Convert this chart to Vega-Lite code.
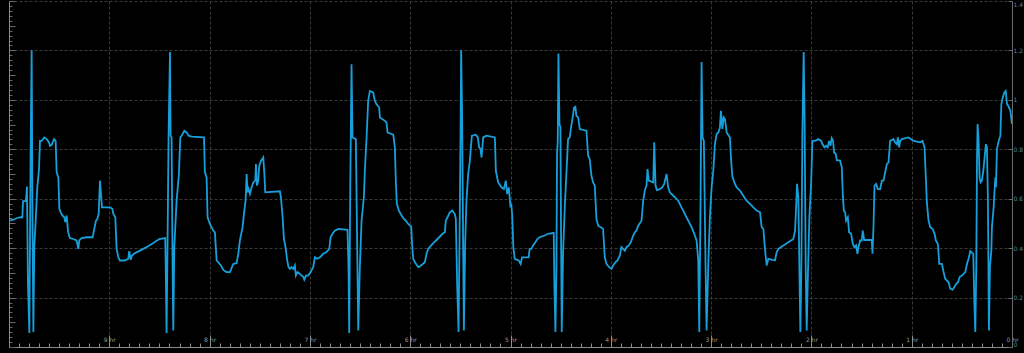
{
  "$schema": "https://vega.github.io/schema/vega-lite/v6.json",
  "width": 1003,
  "height": 346,
  "autosize": {"type": "none"},
  "padding": {"left": 9, "top": 1, "right": 12, "bottom": 6},
  "background": "#000000",
  "config": {"view": {"stroke": null}, "font": "DejaVu Sans"},
  "data": {"values": [
    {"t":0,"v":0.511},{"t":0.043,"v":0.515},{"t":0.076,"v":0.521},{"t":0.116,"v":0.525},{"t":0.133,"v":0.525},{"t":0.14,"v":0.59},{"t":0.169,"v":0.59},{"t":0.179,"v":0.649},{"t":0.189,"v":0.256},{"t":0.203,"v":0.057},{"t":0.216,"v":0.808},{"t":0.226,"v":1.201},{"t":0.233,"v":0.592},{"t":0.243,"v":0.061},{"t":0.252,"v":0.404},{"t":0.266,"v":0.511},{"t":0.282,"v":0.646},{"t":0.299,"v":0.72},{"t":0.309,"v":0.834},{"t":0.326,"v":0.834},{"t":0.352,"v":0.848},{"t":0.375,"v":0.841},{"t":0.399,"v":0.828},{"t":0.409,"v":0.814},{"t":0.425,"v":0.818},{"t":0.449,"v":0.841},{"t":0.465,"v":0.834},{"t":0.475,"v":0.707},{"t":0.492,"v":0.686},{"t":0.502,"v":0.559},{"t":0.515,"v":0.545},{"t":0.532,"v":0.532},{"t":0.551,"v":0.525},{"t":0.561,"v":0.505},{"t":0.575,"v":0.532},{"t":0.588,"v":0.471},{"t":0.598,"v":0.451},{"t":0.608,"v":0.441},{"t":0.641,"v":0.437},{"t":0.674,"v":0.431},{"t":0.691,"v":0.397},{"t":0.701,"v":0.431},{"t":0.724,"v":0.441},{"t":0.774,"v":0.444},{"t":0.834,"v":0.444},{"t":0.847,"v":0.471},{"t":0.867,"v":0.511},{"t":0.88,"v":0.518},{"t":0.894,"v":0.538},{"t":0.907,"v":0.673},{"t":0.917,"v":0.619},{"t":0.927,"v":0.565},{"t":0.957,"v":0.565},{"t":1.007,"v":0.565},{"t":1.03,"v":0.559},{"t":1.04,"v":0.538},{"t":1.06,"v":0.525},{"t":1.073,"v":0.397},{"t":1.09,"v":0.363},{"t":1.106,"v":0.35},{"t":1.156,"v":0.35},{"t":1.189,"v":0.357},{"t":1.199,"v":0.388},{"t":1.213,"v":0.353},{"t":1.226,"v":0.37},{"t":1.256,"v":0.38},{"t":1.306,"v":0.39},{"t":1.372,"v":0.404},{"t":1.439,"v":0.421},{"t":1.498,"v":0.437},{"t":1.558,"v":0.441},{"t":1.565,"v":0.256},{"t":1.571,"v":0.057},{"t":1.581,"v":0.431},{"t":1.591,"v":0.855},{"t":1.605,"v":1.194},{"t":1.611,"v":0.855},{"t":1.621,"v":0.848},{"t":1.631,"v":0.323},{"t":1.638,"v":0.067},{"t":1.648,"v":0.404},{"t":1.671,"v":0.592},{"t":1.694,"v":0.7},{"t":1.708,"v":0.848},{"t":1.721,"v":0.855},{"t":1.748,"v":0.875},{"t":1.771,"v":0.868},{"t":1.791,"v":0.855},{"t":1.821,"v":0.851},{"t":1.944,"v":0.848},{"t":1.953,"v":0.707},{"t":1.97,"v":0.686},{"t":1.98,"v":0.525},{"t":2.003,"v":0.498},{"t":2.037,"v":0.471},{"t":2.053,"v":0.464},{"t":2.07,"v":0.35},{"t":2.086,"v":0.343},{"t":2.113,"v":0.33},{"t":2.136,"v":0.312},{"t":2.169,"v":0.303},{"t":2.203,"v":0.303},{"t":2.236,"v":0.336},{"t":2.269,"v":0.339},{"t":2.286,"v":0.377},{"t":2.302,"v":0.431},{"t":2.329,"v":0.485},{"t":2.342,"v":0.538},{"t":2.359,"v":0.592},{"t":2.369,"v":0.7},{"t":2.379,"v":0.626},{"t":2.389,"v":0.639},{"t":2.402,"v":0.619},{"t":2.419,"v":0.646},{"t":2.435,"v":0.666},{"t":2.455,"v":0.673},{"t":2.462,"v":0.74},{"t":2.472,"v":0.653},{"t":2.485,"v":0.673},{"t":2.495,"v":0.733},{"t":2.512,"v":0.754},{"t":2.525,"v":0.76},{"t":2.535,"v":0.767},{"t":2.545,"v":0.707},{"t":2.555,"v":0.626},{"t":2.701,"v":0.63},{"t":2.711,"v":0.606},{"t":2.728,"v":0.525},{"t":2.741,"v":0.437},{"t":2.757,"v":0.404},{"t":2.774,"v":0.35},{"t":2.787,"v":0.323},{"t":2.801,"v":0.316},{"t":2.817,"v":0.323},{"t":2.834,"v":0.316},{"t":2.85,"v":0.33},{"t":2.86,"v":0.289},{"t":2.877,"v":0.303},{"t":2.9,"v":0.296},{"t":2.934,"v":0.283},{"t":2.944,"v":0.272},{"t":2.96,"v":0.289},{"t":2.983,"v":0.289},{"t":3.007,"v":0.303},{"t":3.033,"v":0.323},{"t":3.05,"v":0.363},{"t":3.073,"v":0.357},{"t":3.1,"v":0.363},{"t":3.133,"v":0.377},{"t":3.166,"v":0.384},{"t":3.193,"v":0.397},{"t":3.206,"v":0.444},{"t":3.226,"v":0.458},{"t":3.249,"v":0.471},{"t":3.282,"v":0.478},{"t":3.375,"v":0.474},{"t":3.385,"v":0.323},{"t":3.392,"v":0.057},{"t":3.402,"v":0.633},{"t":3.415,"v":1.144},{"t":3.425,"v":0.848},{"t":3.458,"v":0.841},{"t":3.472,"v":0.39},{"t":3.482,"v":0.067},{"t":3.498,"v":0.323},{"t":3.515,"v":0.511},{"t":3.538,"v":0.606},{"t":3.548,"v":0.713},{"t":3.565,"v":0.848},{"t":3.581,"v":0.996},{"t":3.598,"v":1.036},{"t":3.631,"v":1.03},{"t":3.648,"v":0.996},{"t":3.664,"v":0.982},{"t":3.691,"v":0.969},{"t":3.698,"v":0.929},{"t":3.748,"v":0.915},{"t":3.764,"v":0.908},{"t":3.774,"v":0.868},{"t":3.831,"v":0.859},{"t":3.847,"v":0.808},{"t":3.857,"v":0.666},{"t":3.867,"v":0.579},{"t":3.887,"v":0.552},{"t":3.914,"v":0.532},{"t":3.937,"v":0.518},{"t":3.957,"v":0.511},{"t":3.98,"v":0.498},{"t":4.01,"v":0.487},{"t":4.02,"v":0.411},{"t":4.03,"v":0.357},{"t":4.047,"v":0.343},{"t":4.08,"v":0.323},{"t":4.096,"v":0.326},{"t":4.146,"v":0.343},{"t":4.163,"v":0.377},{"t":4.179,"v":0.397},{"t":4.223,"v":0.417},{"t":4.272,"v":0.437},{"t":4.322,"v":0.458},{"t":4.346,"v":0.464},{"t":4.355,"v":0.511},{"t":4.372,"v":0.525},{"t":4.395,"v":0.545},{"t":4.419,"v":0.552},{"t":4.445,"v":0.538},{"t":4.455,"v":0.518},{"t":4.468,"v":0.256},{"t":4.482,"v":0.061},{"t":4.492,"v":0.431},{"t":4.502,"v":0.861},{"t":4.508,"v":1.201},{"t":4.518,"v":0.929},{"t":4.528,"v":0.404},{"t":4.535,"v":0.067},{"t":4.548,"v":0.417},{"t":4.561,"v":0.592},{"t":4.578,"v":0.7},{"t":4.595,"v":0.754},{"t":4.605,"v":0.808},{"t":4.615,"v":0.855},{"t":4.654,"v":0.859},{"t":4.674,"v":0.848},{"t":4.688,"v":0.808},{"t":4.701,"v":0.801},{"t":4.711,"v":0.767},{"t":4.728,"v":0.848},{"t":4.761,"v":0.855},{"t":4.844,"v":0.848},{"t":4.854,"v":0.713},{"t":4.877,"v":0.666},{"t":4.91,"v":0.646},{"t":4.934,"v":0.639},{"t":4.953,"v":0.673},{"t":4.967,"v":0.619},{"t":4.983,"v":0.646},{"t":5.0,"v":0.565},
    {"t":5.008,"v":0.579},{"t":5.018,"v":0.525},{"t":5.028,"v":0.404},{"t":5.042,"v":0.357},{"t":5.082,"v":0.35},{"t":5.101,"v":0.336},{"t":5.115,"v":0.363},{"t":5.181,"v":0.363},{"t":5.191,"v":0.397},{"t":5.208,"v":0.397},{"t":5.225,"v":0.411},{"t":5.248,"v":0.424},{"t":5.268,"v":0.437},{"t":5.291,"v":0.444},{"t":5.341,"v":0.451},{"t":5.374,"v":0.458},{"t":5.431,"v":0.462},{"t":5.438,"v":0.242},{"t":5.448,"v":0.061},{"t":5.458,"v":0.323},{"t":5.464,"v":0.781},{"t":5.471,"v":0.834},{"t":5.478,"v":1.188},{"t":5.488,"v":0.902},{"t":5.498,"v":0.888},{"t":5.504,"v":0.458},{"t":5.511,"v":0.061},{"t":5.524,"v":0.377},{"t":5.541,"v":0.565},{"t":5.557,"v":0.7},{"t":5.574,"v":0.841},{"t":5.591,"v":0.848},{"t":5.601,"v":0.882},{"t":5.617,"v":0.922},{"t":5.634,"v":0.969},{"t":5.647,"v":0.972},{"t":5.657,"v":0.935},{"t":5.674,"v":0.929},{"t":5.691,"v":0.882},{"t":5.757,"v":0.875},{"t":5.774,"v":0.774},{"t":5.79,"v":0.76},{"t":5.807,"v":0.693},{"t":5.824,"v":0.666},{"t":5.84,"v":0.653},{"t":5.857,"v":0.518},{"t":5.874,"v":0.491},{"t":5.923,"v":0.478},{"t":5.94,"v":0.363},{"t":5.957,"v":0.336},{"t":5.983,"v":0.323},{"t":6.007,"v":0.316},{"t":6.023,"v":0.33},{"t":6.047,"v":0.343},{"t":6.067,"v":0.35},{"t":6.09,"v":0.37},{"t":6.106,"v":0.404},{"t":6.14,"v":0.39},{"t":6.156,"v":0.404},{"t":6.18,"v":0.411},{"t":6.2,"v":0.424},{"t":6.223,"v":0.451},{"t":6.24,"v":0.464},{"t":6.256,"v":0.471},{"t":6.273,"v":0.491},{"t":6.306,"v":0.511},{"t":6.323,"v":0.592},{"t":6.339,"v":0.633},{"t":6.356,"v":0.653},{"t":6.366,"v":0.72},{"t":6.379,"v":0.673},{"t":6.423,"v":0.666},{"t":6.433,"v":0.828},{"t":6.446,"v":0.653},{"t":6.459,"v":0.635},{"t":6.489,"v":0.639},{"t":6.512,"v":0.646},{"t":6.532,"v":0.659},{"t":6.556,"v":0.7},{"t":6.572,"v":0.646},{"t":6.589,"v":0.626},{"t":6.606,"v":0.619},{"t":6.639,"v":0.606},{"t":6.672,"v":0.592},{"t":6.705,"v":0.565},{"t":6.739,"v":0.538},{"t":6.772,"v":0.511},{"t":6.805,"v":0.485},{"t":6.832,"v":0.458},{"t":6.855,"v":0.431},{"t":6.872,"v":0.35},{"t":6.882,"v":0.061},{"t":6.895,"v":0.592},{"t":6.905,"v":1.153},{"t":6.915,"v":0.848},{"t":6.928,"v":0.834},{"t":6.945,"v":0.323},{"t":6.955,"v":0.067},{"t":6.972,"v":0.336},{"t":6.988,"v":0.525},{"t":7.005,"v":0.646},{"t":7.022,"v":0.713},{"t":7.038,"v":0.821},{"t":7.055,"v":0.861},{"t":7.072,"v":0.868},{"t":7.088,"v":0.888},{"t":7.098,"v":0.956},{"t":7.112,"v":0.882},{"t":7.125,"v":0.929},{"t":7.138,"v":0.922},{"t":7.155,"v":0.868},{"t":7.188,"v":0.848},{"t":7.198,"v":0.767},{"t":7.211,"v":0.693},{"t":7.231,"v":0.666},{"t":7.255,"v":0.646},{"t":7.288,"v":0.633},{"t":7.321,"v":0.612},{"t":7.354,"v":0.592},{"t":7.388,"v":0.579},{"t":7.421,"v":0.565},{"t":7.454,"v":0.552},{"t":7.488,"v":0.545},{"t":7.504,"v":0.485},{"t":7.521,"v":0.478},{"t":7.537,"v":0.397},{"t":7.554,"v":0.33},{"t":7.571,"v":0.357},{"t":7.637,"v":0.35},{"t":7.654,"v":0.384},{"t":7.671,"v":0.397},{"t":7.72,"v":0.411},{"t":7.77,"v":0.424},{"t":7.82,"v":0.437},{"t":7.837,"v":0.471},{"t":7.847,"v":0.559},{"t":7.857,"v":0.66},{"t":7.87,"v":0.606},{"t":7.88,"v":0.323},{"t":7.89,"v":0.061},{"t":7.9,"v":0.323},{"t":7.91,"v":0.861},{"t":7.923,"v":1.194},{"t":7.933,"v":0.888},{"t":7.943,"v":0.323},{"t":7.953,"v":0.067},{"t":7.967,"v":0.323},{"t":7.98,"v":0.525},{"t":7.997,"v":0.66},{"t":8.01,"v":0.834},{"t":8.037,"v":0.834},{"t":8.07,"v":0.841},{"t":8.097,"v":0.834},{"t":8.11,"v":0.821},{"t":8.13,"v":0.808},{"t":8.146,"v":0.814},{"t":8.163,"v":0.808},{"t":8.176,"v":0.834},{"t":8.19,"v":0.814},{"t":8.203,"v":0.845},{"t":8.216,"v":0.834},{"t":8.226,"v":0.787},{"t":8.243,"v":0.781},{"t":8.253,"v":0.756},{"t":8.286,"v":0.754},{"t":8.303,"v":0.727},{"t":8.313,"v":0.619},{"t":8.323,"v":0.552},{"t":8.336,"v":0.545},{"t":8.346,"v":0.511},{"t":8.363,"v":0.525},{"t":8.376,"v":0.464},{"t":8.396,"v":0.458},{"t":8.413,"v":0.417},{"t":8.429,"v":0.404},{"t":8.446,"v":0.411},{"t":8.459,"v":0.377},{"t":8.469,"v":0.404},{"t":8.486,"v":0.431},{"t":8.502,"v":0.431},{"t":8.512,"v":0.471},{"t":8.526,"v":0.433},{"t":8.602,"v":0.433},{"t":8.609,"v":0.377},{"t":8.619,"v":0.485},{"t":8.629,"v":0.653},{"t":8.646,"v":0.66},{"t":8.662,"v":0.639},{"t":8.686,"v":0.639},{"t":8.702,"v":0.673},{"t":8.719,"v":0.673},{"t":8.735,"v":0.707},{"t":8.752,"v":0.74},{"t":8.769,"v":0.747},{"t":8.785,"v":0.834},{"t":8.819,"v":0.841},{"t":8.835,"v":0.828},{"t":8.852,"v":0.821},{"t":8.862,"v":0.848},{"t":8.875,"v":0.808},{"t":8.885,"v":0.834},{"t":8.902,"v":0.841},{"t":8.968,"v":0.848},{"t":9.018,"v":0.834},{"t":9.085,"v":0.828},{"t":9.108,"v":0.834},{"t":9.128,"v":0.808},{"t":9.141,"v":0.686},{"t":9.151,"v":0.585},{"t":9.168,"v":0.511},{"t":9.185,"v":0.485},{"t":9.208,"v":0.478},{"t":9.228,"v":0.458},{"t":9.241,"v":0.431},{"t":9.261,"v":0.417},{"t":9.275,"v":0.336},{"t":9.301,"v":0.336},{"t":9.318,"v":0.303},{"t":9.334,"v":0.276},{"t":9.368,"v":0.262},{"t":9.384,"v":0.236},{"t":9.408,"v":0.232},{"t":9.424,"v":0.242},{"t":9.444,"v":0.256},{"t":9.461,"v":0.262},{"t":9.478,"v":0.283},{"t":9.501,"v":0.289},{"t":9.534,"v":0.303},{"t":9.551,"v":0.336},{"t":9.567,"v":0.357},{"t":9.584,"v":0.388},{"t":9.614,"v":0.377},{"t":9.624,"v":0.188},{"t":9.634,"v":0.061},{"t":9.644,"v":0.323},{"t":9.651,"v":0.754},{"t":9.657,"v":0.902},{"t":9.667,"v":0.834},{"t":9.677,"v":0.686},{"t":9.687,"v":0.666},{"t":9.7,"v":0.673},{"t":9.714,"v":0.713},{"t":9.727,"v":0.767},{"t":9.74,"v":0.821},{"t":9.75,"v":0.808},{"t":9.76,"v":0.592},{"t":9.77,"v":0.067},{"t":9.78,"v":0.323},{"t":9.794,"v":0.39},{"t":9.8,"v":0.485},{"t":9.817,"v":0.565},{"t":9.827,"v":0.639},{"t":9.834,"v":0.686},{"t":9.84,"v":0.646},{"t":9.85,"v":0.801},{"t":9.867,"v":0.834},{"t":9.884,"v":0.855},{"t":9.894,"v":0.983},{"t":9.907,"v":1.009},{"t":9.924,"v":1.03},{"t":9.937,"v":1.036},{"t":9.95,"v":0.983},{"t":9.967,"v":0.972},{"t":9.984,"v":0.956},{"t":10,"v":0.902}
  ]},
  "encoding": {
    "x": {"field": "t", "type": "quantitative", "scale": {"domain": [0, 10], "nice": false, "zero": false},
      "axis": {"orient": "bottom", "title": null, "tickCount": 100, "domainColor": "#8a8a8a", "domainWidth": 1,
        "tickColor": "#8a8a8a", "tickWidth": 1,
        "tickSize": {"condition": {"test": "abs(datum.value - round(datum.value)) < 0.01", "value": -12}, "value": -4},
        "grid": true, "gridColor": "#3a3a3a", "gridDash": [3, 2], "gridWidth": 1,
        "gridOpacity": {"condition": {"test": "abs(datum.value - round(datum.value)) < 0.01", "value": 1}, "value": 0},
        "labelExpr": "(abs(datum.value - round(datum.value)) < 0.01 && datum.value > 0.5) ? (10 - round(datum.value)) + ' hr' : ''",
        "labelFontSize": 6, "labelColor": "#9a9a9a", "labelPadding": 1, "labelFlush": false, "labelOverlap": false, "labelAlign": "center"}}
  },
  "layer": [
    {
      "mark": {"type": "line", "color": "#189fda", "strokeWidth": 1.8, "interpolate": "linear", "clip": true},
      "encoding": {
        "y": {"field": "v", "type": "quantitative", "scale": {"domain": [0, 1.4], "nice": false, "zero": false},
          "axis": {"orient": "left", "title": null, "tickCount": 70, "labels": false, "domainColor": "#8a8a8a",
            "tickColor": "#6a6a6a",
            "tickSize": {"condition": {"test": "abs(datum.value * 10 - round(datum.value * 10)) < 0.01", "value": -6}, "value": -3},
            "grid": true, "gridColor": "#3a3a3a", "gridDash": [3, 2], "gridWidth": 1,
            "gridOpacity": {"condition": {"test": "abs(datum.value * 5 - round(datum.value * 5)) < 0.01", "value": 1}, "value": 0}}}
      }
    },
    {
      "mark": {"type": "line", "color": "#189fda", "strokeWidth": 1.8, "strokeOpacity": 0},
      "encoding": {
        "y": {"field": "v", "type": "quantitative",
          "axis": {"orient": "right", "title": null, "values": [0, 0.2, 0.4, 0.6, 0.8, 1, 1.2, 1.4], "format": "~g",
            "domainColor": "#6a6a6a", "tickColor": "#6a6a6a", "tickSize": -4, "grid": false,
            "labelFontSize": 6, "labelColor": "#4a86b3", "labelPadding": 5, "labelFlush": true, "labelOverlap": false}}
      }
    }
  ],
  "resolve": {"axis": {"y": "independent"}}
}
